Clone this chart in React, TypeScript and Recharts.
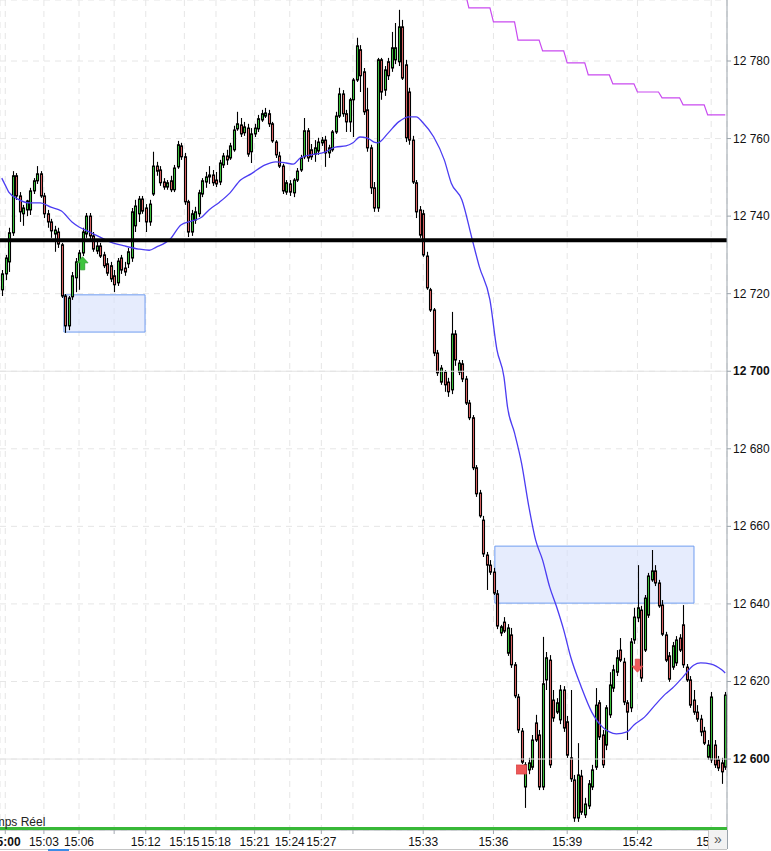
import React from 'react'
import { Bar, CartesianGrid, ComposedChart, Line, ReferenceArea, ReferenceDot, ReferenceLine, XAxis, YAxis } from 'recharts'

// OHLC per bar (points)
const opens = [
  12721.0, 12725.1, 12728.2, 12735.7, 12750.4, 12745.2, 12740.6, 12741.6, 12741.6, 12746.5,
  12749.1, 12750.9, 12745.2, 12740.6, 12738.5, 12735.4, 12735.9, 12732.6, 12719.4, 12711.7,
  12719.2, 12724.1, 12728.2, 12730.5, 12735.4, 12740.0, 12734.9, 12731.0, 12732.3, 12730.0,
  12727.7, 12727.2, 12724.6, 12722.8, 12729.2, 12726.6, 12727.7, 12729.2, 12737.5, 12740.6,
  12744.4, 12742.1, 12738.5, 12745.7, 12752.9, 12751.9, 12748.8, 12747.5, 12749.1, 12746.8,
  12752.7, 12758.1, 12755.3, 12743.7, 12735.9, 12739.0, 12740.6, 12745.7, 12748.8, 12750.1,
  12750.6, 12749.3, 12748.8, 12753.2, 12755.5, 12755.0, 12757.1, 12762.5, 12763.5, 12761.5,
  12762.7, 12756.6, 12761.2, 12762.5, 12764.8, 12765.8, 12766.4, 12763.8, 12759.1, 12755.5,
  12752.9, 12746.2, 12748.3, 12746.0, 12749.3, 12751.9, 12755.3, 12762.0, 12757.1, 12756.0,
  12756.8, 12758.9, 12759.6, 12756.3, 12757.1, 12761.7, 12765.8, 12771.5, 12766.4, 12764.3,
  12770.0, 12775.1, 12782.9, 12777.2, 12767.4, 12757.6, 12747.3, 12742.1, 12780.3, 12772.5,
  12779.8, 12778.2, 12780.3, 12779.8, 12788.8, 12779.0, 12772.0, 12759.6, 12748.6, 12741.6,
  12740.6, 12729.7, 12721.0, 12715.8, 12704.7, 12697.2, 12699.8, 12697.2, 12695.2, 12709.6,
  12699.8, 12701.9, 12698.0, 12691.8, 12688.0, 12675.1, 12668.6, 12661.6, 12652.6, 12650.0,
  12648.2, 12642.6, 12632.5, 12635.3, 12627.3, 12632.0, 12624.3, 12616.0, 12607.2, 12592.8,
  12597.2, 12597.9, 12609.3, 12606.2, 12592.8, 12620.4, 12625.5, 12615.2, 12612.1, 12610.1,
  12617.8, 12609.6, 12600.3, 12594.6, 12584.8, 12595.6, 12585.6, 12587.9, 12592.8, 12597.9,
  12614.5, 12606.2, 12603.6, 12611.4, 12618.3, 12622.4, 12628.1, 12625.0, 12614.5, 12613.2,
  12630.7, 12636.4, 12638.4, 12628.1, 12637.1, 12646.2, 12648.5, 12645.4, 12639.7, 12632.0,
  12626.6, 12623.7, 12624.8, 12631.2, 12634.6, 12623.7, 12620.4, 12615.2, 12612.1, 12610.3,
  12607.2, 12600.5, 12599.8, 12603.6, 12599.8, 12599.0, 12597.9,
]
const highs = [
  12726.1, 12730.0, 12737.0, 12751.6, 12751.1, 12746.2, 12742.9, 12744.2, 12747.3, 12749.8,
  12752.9, 12751.6, 12746.0, 12741.6, 12739.3, 12737.5, 12737.0, 12733.1, 12719.9, 12719.4,
  12725.6, 12729.2, 12731.3, 12737.0, 12740.8, 12740.8, 12735.9, 12733.9, 12733.1, 12730.8,
  12729.2, 12728.2, 12726.1, 12729.2, 12730.0, 12728.2, 12731.8, 12742.1, 12744.2, 12745.2,
  12745.2, 12743.1, 12744.2, 12756.6, 12754.0, 12752.9, 12749.8, 12749.3, 12750.4, 12753.2,
  12759.4, 12758.9, 12756.3, 12744.2, 12741.6, 12742.4, 12746.8, 12749.8, 12751.4, 12752.9,
  12751.9, 12751.4, 12754.5, 12756.3, 12757.1, 12758.9, 12763.3, 12766.9, 12765.3, 12764.3,
  12763.8, 12762.7, 12763.8, 12766.1, 12767.4, 12767.9, 12767.4, 12764.3, 12759.6, 12756.6,
  12753.5, 12749.3, 12749.3, 12749.8, 12752.4, 12755.8, 12765.3, 12762.7, 12758.6, 12759.6,
  12760.2, 12760.4, 12760.7, 12758.4, 12762.2, 12766.9, 12773.1, 12772.5, 12767.4, 12770.5,
  12775.6, 12786.0, 12784.1, 12778.2, 12773.1, 12758.4, 12748.8, 12780.8, 12780.8, 12778.7,
  12780.8, 12787.5, 12789.8, 12793.2, 12790.6, 12780.3, 12773.1, 12760.7, 12749.3, 12742.6,
  12741.6, 12730.8, 12721.5, 12716.3, 12705.5, 12701.6, 12700.3, 12698.3, 12715.3, 12710.6,
  12702.9, 12702.9, 12698.8, 12692.6, 12688.7, 12675.8, 12669.4, 12662.7, 12653.4, 12651.3,
  12649.3, 12643.6, 12634.6, 12636.6, 12634.8, 12633.8, 12625.0, 12616.8, 12608.0, 12599.2,
  12600.3, 12606.2, 12611.4, 12607.5, 12631.5, 12627.6, 12626.8, 12617.8, 12615.7, 12619.1,
  12618.8, 12611.1, 12617.8, 12595.9, 12604.1, 12597.2, 12590.0, 12594.6, 12598.5, 12618.3,
  12615.2, 12607.5, 12613.9, 12622.4, 12624.3, 12628.1, 12631.2, 12626.1, 12615.2, 12631.2,
  12639.0, 12650.0, 12639.5, 12642.3, 12648.0, 12653.9, 12650.0, 12646.2, 12641.0, 12632.8,
  12627.6, 12630.2, 12631.7, 12632.2, 12639.7, 12624.5, 12621.4, 12617.8, 12613.9, 12611.4,
  12608.3, 12604.9, 12617.3, 12604.9, 12600.8, 12600.3, 12617.3,
]
const lows = [
  12719.4, 12723.5, 12725.6, 12734.9, 12744.2, 12738.5, 12737.5, 12740.0, 12740.3, 12745.7,
  12748.3, 12744.7, 12739.5, 12737.0, 12734.4, 12730.8, 12731.8, 12718.9, 12709.9, 12710.6,
  12718.4, 12720.4, 12721.0, 12729.7, 12734.4, 12733.9, 12730.8, 12730.2, 12729.2, 12726.6,
  12724.6, 12723.0, 12720.4, 12722.0, 12725.1, 12724.6, 12726.6, 12728.2, 12735.9, 12738.5,
  12740.6, 12735.9, 12737.5, 12745.2, 12750.4, 12747.8, 12746.8, 12746.8, 12746.2, 12746.2,
  12752.2, 12754.5, 12742.9, 12734.6, 12734.9, 12738.0, 12739.8, 12744.9, 12747.3, 12748.3,
  12747.8, 12747.5, 12748.0, 12752.4, 12753.2, 12754.5, 12756.6, 12762.0, 12760.4, 12760.7,
  12755.3, 12753.7, 12760.4, 12761.7, 12764.3, 12765.3, 12763.0, 12758.9, 12755.0, 12752.4,
  12745.7, 12745.5, 12745.2, 12744.9, 12748.8, 12751.4, 12754.7, 12754.0, 12754.5, 12754.0,
  12755.8, 12758.1, 12752.7, 12755.0, 12756.6, 12761.2, 12765.3, 12765.6, 12761.7, 12761.7,
  12760.4, 12774.6, 12772.0, 12766.1, 12756.6, 12745.7, 12741.1, 12741.1, 12770.0, 12771.0,
  12775.1, 12777.2, 12779.2, 12778.7, 12775.1, 12759.1, 12758.4, 12748.3, 12739.5, 12734.4,
  12729.5, 12721.0, 12715.3, 12703.9, 12698.8, 12696.5, 12694.7, 12693.4, 12694.1, 12701.4,
  12699.0, 12697.2, 12691.3, 12687.4, 12674.5, 12667.6, 12662.2, 12652.1, 12643.6, 12647.5,
  12642.3, 12633.5, 12631.7, 12632.5, 12626.6, 12623.5, 12615.7, 12606.7, 12598.7, 12587.4,
  12596.1, 12597.2, 12604.4, 12592.0, 12592.0, 12617.8, 12597.7, 12609.6, 12611.6, 12609.0,
  12607.0, 12600.3, 12594.1, 12583.8, 12583.8, 12585.6, 12584.8, 12587.1, 12592.0, 12597.2,
  12604.9, 12597.7, 12602.3, 12610.6, 12617.3, 12621.4, 12625.0, 12613.9, 12604.9, 12612.1,
  12629.7, 12635.3, 12619.9, 12627.6, 12636.4, 12645.7, 12644.6, 12639.0, 12631.7, 12625.0,
  12619.9, 12623.0, 12624.0, 12627.6, 12623.5, 12619.9, 12613.2, 12611.4, 12609.6, 12605.9,
  12603.6, 12599.8, 12599.0, 12597.7, 12596.9, 12593.6, 12597.2,
]
const closes = [
  12725.1, 12729.2, 12735.7, 12750.4, 12745.2, 12741.1, 12742.1, 12743.9, 12746.5, 12749.1,
  12750.9, 12745.2, 12740.6, 12738.5, 12736.2, 12736.4, 12732.8, 12719.4, 12711.7, 12718.9,
  12724.6, 12728.2, 12730.5, 12735.9, 12740.0, 12734.9, 12731.5, 12732.3, 12729.7, 12727.2,
  12725.3, 12723.8, 12722.3, 12728.4, 12726.1, 12725.6, 12730.8, 12741.1, 12742.6, 12744.4,
  12741.3, 12738.5, 12743.1, 12752.9, 12751.6, 12748.6, 12747.5, 12748.6, 12746.8, 12752.4,
  12758.4, 12755.3, 12743.7, 12735.9, 12740.6, 12741.1, 12746.0, 12749.1, 12750.1, 12750.6,
  12748.6, 12748.3, 12753.7, 12755.5, 12754.5, 12758.1, 12762.2, 12763.8, 12761.2, 12763.0,
  12756.0, 12761.2, 12762.7, 12765.1, 12766.4, 12766.6, 12763.8, 12759.4, 12755.8, 12752.9,
  12746.5, 12748.6, 12746.2, 12749.3, 12751.6, 12755.0, 12762.0, 12755.0, 12755.3, 12757.6,
  12759.1, 12759.6, 12756.3, 12757.6, 12761.7, 12765.8, 12771.5, 12766.4, 12764.3, 12770.0,
  12775.1, 12783.9, 12776.2, 12766.9, 12757.6, 12747.3, 12742.1, 12780.3, 12772.0, 12777.7,
  12776.2, 12783.4, 12783.4, 12788.8, 12775.6, 12760.2, 12759.6, 12748.8, 12741.1, 12735.1,
  12730.0, 12721.5, 12715.8, 12704.7, 12699.6, 12700.8, 12696.5, 12694.7, 12709.6, 12702.9,
  12702.1, 12698.0, 12691.8, 12688.0, 12675.1, 12668.4, 12662.7, 12652.9, 12650.0, 12648.2,
  12642.8, 12634.3, 12634.1, 12633.0, 12633.8, 12624.3, 12616.3, 12607.5, 12599.2, 12598.5,
  12599.0, 12604.9, 12604.9, 12592.8, 12619.4, 12626.1, 12598.5, 12610.6, 12614.5, 12617.8,
  12608.0, 12601.0, 12594.9, 12584.8, 12595.9, 12586.3, 12588.4, 12593.6, 12597.2, 12613.9,
  12605.7, 12598.5, 12613.2, 12619.1, 12623.0, 12626.1, 12625.5, 12614.7, 12612.1, 12630.2,
  12636.6, 12639.0, 12620.9, 12641.5, 12647.2, 12648.5, 12645.4, 12639.5, 12632.2, 12625.5,
  12620.6, 12629.2, 12630.7, 12628.1, 12624.3, 12620.4, 12613.9, 12612.1, 12610.3, 12607.0,
  12604.1, 12603.6, 12616.0, 12598.5, 12597.7, 12596.7, 12616.5,
]

// moving average, read at a subset of bars: [bar, value]
const maPoints: Array<[number, number]> = [
  [0, 12749.8], [1, 12748.0], [2, 12746.2], [5, 12744.2], [8, 12743.4], [11, 12743.4], [14, 12742.3], [17, 12741.3],
  [20, 12738.5], [22, 12737.2], [25, 12735.9], [28, 12734.6], [31, 12733.3], [35, 12732.3], [39, 12731.5],
  [42, 12731.2], [44, 12732.0], [48, 12734.1], [51, 12737.7], [54, 12738.7], [57, 12739.8], [59, 12741.6],
  [62, 12743.6], [65, 12746.0], [68, 12749.3], [71, 12750.9], [75, 12753.2], [78, 12754.0], [81, 12753.7],
  [83, 12753.4], [85, 12755.0], [88, 12755.8], [92, 12756.5], [95, 12757.8], [98, 12758.1], [100, 12758.9],
  [102, 12760.4], [104, 12760.2], [106, 12759.1], [107, 12758.9], [110, 12761.4], [113, 12764.3], [116, 12765.6],
  [118, 12765.6], [120, 12764.0], [123, 12760.4], [126, 12754.5], [128, 12748.5], [131, 12744.2], [134, 12733.8],
  [136, 12726.9], [139, 12718.4], [141, 12705.5], [143, 12698.5], [144, 12690.8], [146, 12684.1], [148, 12676.3],
  [150, 12665.5], [152, 12656.5], [154, 12651.3], [156, 12644.4], [158, 12639.2], [160, 12633.3], [162, 12626.3],
  [165, 12618.6], [168, 12612.1], [171, 12608.3], [173, 12607.0], [175, 12606.5], [178, 12607.0], [180, 12608.8],
  [183, 12610.8], [186, 12613.9], [189, 12616.8], [191, 12618.3], [194, 12621.2], [197, 12624.2], [199, 12624.8],
  [202, 12624.5], [205, 12623.0], [206, 12622.2],
]

// stepped upper band: [first bar of step, level]
const bandSteps: Array<[number, number]> = [
  [132, 12797.5], [133, 12793.7], [140, 12790.1], [147, 12785.4], [154, 12782.6], [161, 12779.5],
  [167, 12776.4], [174, 12774.1], [181, 12772.0], [188, 12770.5], [194, 12768.7], [201, 12766.1],
]

const timeTickIndex = [1, 12, 22, 32, 41, 52, 61, 72, 82, 91, 100, 120, 140, 161, 181, 202]
const timeTickLabel = ['15:00', '15:03', '15:06', '', '15:12', '15:15', '15:18', '15:21', '15:24', '15:27', '', '15:33', '15:36', '15:39', '15:42', '15:45']
const priceTicks = [12600, 12620, 12640, 12660, 12680, 12700, 12720, 12740, 12760, 12780]
const priceDomain = [12581.7, 12795.73]

const keyLevel = 12733.8
const zoneBars = [[17.7, 40.8], [140.4, 197.1]]
const zonePrices = [[12710.1, 12719.7], [12640.2, 12654.9]]
const buySignal = { bar: 23, price: 12727.7 }
const exitSignal = { bar: 148, price: 12597.3 }
const sellSignal = { bar: 181, price: 12624.2 }

const maByBar = new Map(maPoints)
const rows = opens.map((o, i) => {
  let band: number | null = null
  for (const [from, lvl] of bandSteps) if (i >= from) band = lvl
  return { i, o, h: highs[i], l: lows[i], c: closes[i], ma: maByBar.get(i) ?? null, band }
})
const lastBar = rows.length - 1

function Candle(props: any) {
  const { x, y, width, height, payload } = props
  const { o, h, l, c } = payload
  const top = Math.min(y, y + height)
  const ht = Math.abs(height)
  const span = h - l || 1
  const py = (p: number) => top + ((h - p) / span) * ht
  const rx = Math.round(x + width / 2 - 1) + 0.5
  const b1 = py(Math.max(o, c))
  const b2 = py(Math.min(o, c))
  return (
    <g>
      <line x1={rx + 1} x2={rx + 1} y1={top} y2={top + ht} stroke="#000" strokeWidth={1.1} />
      <rect x={rx} y={b1} width={2} height={Math.max(b2 - b1, 1)} fill={c >= o ? '#3fd03f' : '#ea6a6a'} stroke="#000" strokeWidth={1.1} />
    </g>
  )
}

function PriceTick({ x, y, payload }: any) {
  const v = payload.value
  const label = `${Math.floor(v / 1000)} ${String(v % 1000).padStart(3, '0')}`
  return (
    <text x={x} y={y} dy={4} fontSize={12} fontWeight={v % 100 === 0 ? 700 : 400} fill="#111">
      {label}
    </text>
  )
}

function TimeTick({ x, y, payload }: any) {
  const label = timeTickLabel[timeTickIndex.indexOf(payload.value)] ?? ''
  return (
    <text x={x} y={y} dy="0.71em" textAnchor="middle" fontSize={12} fontWeight={label === '15:00' ? 700 : 400} fill="#111">
      {label}
    </text>
  )
}

const upArrow = ({ cx, cy }: any) => (
  <polygon
    points={`${cx},${cy - 7} ${cx + 5.5},${cy - 1} ${cx + 2.2},${cy - 1} ${cx + 2.2},${cy + 6} ${cx - 2.2},${cy + 6} ${cx - 2.2},${cy - 1} ${cx - 5.5},${cy - 1}`}
    fill="#3ec43e" stroke="#2c9e2c" strokeWidth={0.8}
  />
)
const downArrow = ({ cx, cy }: any) => (
  <polygon
    points={`${cx},${cy + 7} ${cx + 5.5},${cy + 1} ${cx + 2.2},${cy + 1} ${cx + 2.2},${cy - 6} ${cx - 2.2},${cy - 6} ${cx - 2.2},${cy + 1} ${cx - 5.5},${cy + 1}`}
    fill="#f05a5a" stroke="#d84848" strokeWidth={0.8}
  />
)
const square = ({ cx, cy }: any) => (
  <rect x={cx - 5} y={cy - 4.5} width={10} height={9} fill="#ee5757" stroke="#d94444" strokeWidth={0.8} />
)

export default function App() {
  return (
    <div style={{ position: 'relative', width: 771, height: 851, overflow: 'hidden', background: '#fff', fontFamily: '"Liberation Sans", Arial, sans-serif' }}>
      <style>{'body{margin:0}'}</style>
      <ComposedChart width={771} height={851} data={rows} margin={{ top: 0, right: 0, bottom: 0, left: 0 }} barCategoryGap={0} style={{ fontFamily: '"Liberation Sans", Arial, sans-serif' }}>
        <CartesianGrid xAxisId="cat" stroke="#e6e6e6" strokeDasharray="6 5" />
        <XAxis
          xAxisId="cat"
          dataKey="i"
          type="category"
          ticks={timeTickIndex}
          interval={0}
          height={21}
          tickSize={4}
          tickMargin={3}
          axisLine={{ stroke: '#a3a9b0' }}
          tickLine={{ stroke: '#a3a9b0' }}
          tick={<TimeTick />}
        />
        <XAxis xAxisId="num" type="number" dataKey="i" domain={[-0.5, lastBar + 0.5]} allowDataOverflow hide />
        <YAxis
          orientation="right"
          width={44}
          domain={priceDomain}
          allowDataOverflow
          ticks={priceTicks}
          interval={0}
          tickSize={4}
          tickMargin={2}
          axisLine={{ stroke: '#9aa3ab' }}
          tickLine={{ stroke: '#9aa3ab' }}
          tick={<PriceTick />}
        />
        <ReferenceLine xAxisId="cat" y={12700} stroke="#e3e3e3" />
        <ReferenceLine xAxisId="cat" y={12600} stroke="#e3e3e3" />
        {zoneBars.map(([x1, x2], k) => (
          <ReferenceArea
            key={k}
            xAxisId="num"
            x1={x1}
            x2={x2}
            y1={zonePrices[k][0]}
            y2={zonePrices[k][1]}
            fill="#d6e0fb"
            fillOpacity={0.6}
            stroke="#6f9cf0"
            strokeWidth={1}
          />
        ))}
        <Bar xAxisId="cat" dataKey={(d: any) => [d.l, d.h]} shape={<Candle />} isAnimationActive={false} />
        <Line xAxisId="cat" dataKey="ma" type="monotone" connectNulls dot={false} activeDot={false} stroke="#4b3cf2" strokeWidth={1.3} isAnimationActive={false} />
        <Line xAxisId="cat" dataKey="band" type="linear" dot={false} activeDot={false} stroke="#c94af0" strokeWidth={1.2} isAnimationActive={false} />
        <ReferenceLine xAxisId="cat" y={keyLevel} stroke="#000" strokeWidth={4} />
        <ReferenceDot xAxisId="num" x={buySignal.bar} y={buySignal.price} shape={upArrow} />
        <ReferenceDot xAxisId="num" x={exitSignal.bar} y={exitSignal.price} shape={square} />
        <ReferenceDot xAxisId="num" x={sellSignal.bar} y={sellSignal.price} shape={downArrow} />
      </ComposedChart>
      <div style={{ position: 'absolute', left: 0, top: 827, width: 727, height: 2.5, background: '#38b838' }} />
      <div style={{ position: 'absolute', left: -18, top: 815, fontSize: 12, lineHeight: '14px', color: '#222', whiteSpace: 'nowrap' }}>Temps Réel</div>
      <div style={{ position: 'absolute', left: 0, top: 849, width: 727, height: 1, background: '#c4c4c4' }} />
      <div style={{ position: 'absolute', left: 48, top: 849, width: 21, height: 2, background: '#3c8ce6' }} />
      <div style={{ position: 'absolute', left: 708, top: 830, width: 18, height: 19, background: '#f2f2f2', borderLeft: '1px solid #c8c8c8', borderRight: '1px solid #9aa3ab', fontSize: 14, lineHeight: '18px', textAlign: 'center', color: '#555' }}>»</div>
    </div>
  )
}
